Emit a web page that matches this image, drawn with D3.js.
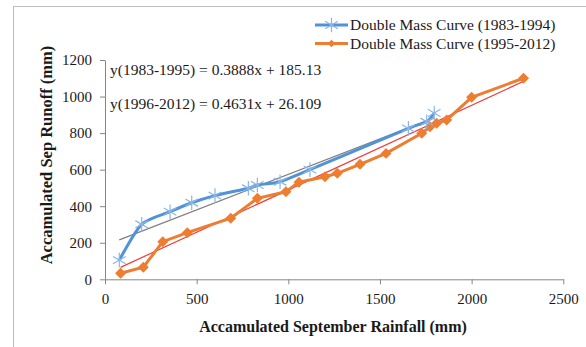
<!DOCTYPE html>
<html>
<head>
<meta charset="utf-8">
<script src="https://cdn.jsdelivr.net/npm/d3@7"></script>
<style>
  body { margin: 0; background: #fff; }
  text { font-family: "Liberation Serif", "Times New Roman", serif; fill: #1a1a1a; }
</style>
</head>
<body>
<div id="chart"></div>
<script>
// Data
const rainEarly = [78, 200, 355, 473, 600, 782, 831, 955, 1118, 1655, 1755, 1796];
const runoffEarly = [105, 301, 370, 419, 458, 498, 516, 534, 600, 826, 862, 910];
const rainLate = [85, 209, 315, 449, 686, 831, 987, 1058, 1200, 1267, 1391, 1533, 1728, 1773, 1809, 1864, 2000, 2283];
const runoffLate = [33, 66, 206, 255, 334, 443, 479, 531, 561, 580, 629, 689, 799, 835, 854, 872, 996, 1100];
const xTicks = [0, 500, 1000, 1500, 2000, 2500];
const yTicks = [0, 200, 400, 600, 800, 1000, 1200];
const trendEarly = { slope: 0.3888, intercept: 185.13, label: 'y(1983-1995) = 0.3888x + 185.13' };
const trendLate = { slope: 0.4631, intercept: 26.109, label: 'y(1996-2012) = 0.4631x + 26.109' };
const seriesNames = ['Double Mass Curve (1983-1994)', 'Double Mass Curve (1995-2012)'];

const width = 586, height = 347;
const blue = '#4f94d8', starBlue = '#8ab6e6', orange = '#ed7d31';
const serif = '"Liberation Serif", "Times New Roman", serif';

const svg = d3.select('#chart').append('svg')
  .attr('width', width)
  .attr('height', height)
  .style('display', 'block');

// outer frame (only top and left visible in the crop)
svg.append('rect')
  .attr('x', 13.5).attr('y', 6.5)
  .attr('width', 600).attr('height', 400)
  .attr('fill', 'none')
  .attr('stroke', '#bdbdbd');

const x = d3.scaleLinear().domain([0, 2500]).range([105, 563.3]);
const y = d3.scaleLinear().domain([0, 1200]).range([279.3, 60]);

// Axes
const yAxis = svg.append('g')
  .attr('transform', `translate(${x(0)},0)`)
  .call(d3.axisLeft(y).tickValues(yTicks).tickFormat(d3.format('d'))
    .tickSize(5).tickPadding(8).tickSizeOuter(0));
const xAxis = svg.append('g')
  .attr('transform', `translate(0,${y(0)})`)
  .call(d3.axisBottom(x).tickValues(xTicks).tickFormat(d3.format('d'))
    .tickSize(5).tickPadding(9).tickSizeOuter(0));

[xAxis, yAxis].forEach(a => {
  a.attr('font-family', serif).attr('font-size', 15);
  a.select('.domain').attr('stroke', '#868686');
  a.selectAll('.tick line').attr('stroke', '#868686');
  a.selectAll('.tick text').attr('fill', '#1a1a1a');
});

// Axis titles
svg.append('text')
  .attr('x', 333).attr('y', 332)
  .attr('text-anchor', 'middle')
  .attr('font-size', 16).attr('font-weight', 'bold')
  .text('Accamulated September Rainfall (mm)');
svg.append('text')
  .attr('transform', 'translate(52,155) rotate(-90)')
  .attr('text-anchor', 'middle')
  .attr('font-size', 16.5).attr('font-weight', 'bold')
  .text('Accamulated Sep Runoff (mm)');

// Trend lines
function drawTrend(t, xs, color) {
  const x0 = d3.min(xs), x1 = d3.max(xs);
  svg.append('line')
    .attr('x1', x(x0)).attr('y1', y(t.slope * x0 + t.intercept))
    .attr('x2', x(x1)).attr('y2', y(t.slope * x1 + t.intercept))
    .attr('stroke', color).attr('stroke-width', 1.2);
}
drawTrend(trendEarly, rainEarly, '#7f7f7f');
drawTrend(trendLate, rainLate, '#f03c3c');

const early = rainEarly.map((d, i) => [d, runoffEarly[i]]);
const late = rainLate.map((d, i) => [d, runoffLate[i]]);

// Late series (orange, straight segments, diamonds)
svg.append('path')
  .datum(late)
  .attr('fill', 'none')
  .attr('stroke', orange).attr('stroke-width', 3)
  .attr('d', d3.line().x(d => x(d[0])).y(d => y(d[1])));

const diamond = d3.symbol().type(d3.symbolSquare).size(60);
svg.append('g').selectAll('path')
  .data(late)
  .join('path')
  .attr('d', diamond)
  .attr('transform', d => `translate(${x(d[0])},${y(d[1])}) rotate(45)`)
  .attr('fill', orange);

// Early series (blue smoothed line, star markers)
svg.append('path')
  .datum(early)
  .attr('fill', 'none')
  .attr('stroke', blue).attr('stroke-width', 3)
  .attr('d', d3.line().curve(d3.curveCardinal.tension(0.3)).x(d => x(d[0])).y(d => y(d[1])));

const star = d3.symbol().type(d3.symbolAsterisk).size(150);
svg.append('g').selectAll('path')
  .data(early)
  .join('path')
  .attr('d', star)
  .attr('transform', d => `translate(${x(d[0])},${y(d[1])})`)
  .attr('fill', 'none')
  .attr('stroke', starBlue).attr('stroke-width', 1.2);

// Equations
svg.append('text').attr('x', 110).attr('y', 75).attr('font-size', 15.5).text(trendEarly.label);
svg.append('text').attr('x', 110).attr('y', 109).attr('font-size', 15.5).text(trendLate.label);

// Legend
const legend = svg.append('g');
seriesNames.forEach((name, i) => {
  const cy = 25 + i * 18.5;
  legend.append('line')
    .attr('x1', 315).attr('x2', 348).attr('y1', cy).attr('y2', cy)
    .attr('stroke', i === 0 ? blue : orange).attr('stroke-width', 3);
  if (i === 0) {
    legend.append('path').attr('d', star)
      .attr('transform', `translate(331.5,${cy})`)
      .attr('fill', 'none').attr('stroke', starBlue).attr('stroke-width', 1.2);
  } else {
    legend.append('path').attr('d', d3.symbol().type(d3.symbolSquare).size(30))
      .attr('transform', `translate(331.5,${cy}) rotate(45)`)
      .attr('fill', orange);
  }
  legend.append('text')
    .attr('x', 350).attr('y', cy + 5)
    .attr('font-size', 15.5)
    .text(name);
});
</script>
</body>
</html>
